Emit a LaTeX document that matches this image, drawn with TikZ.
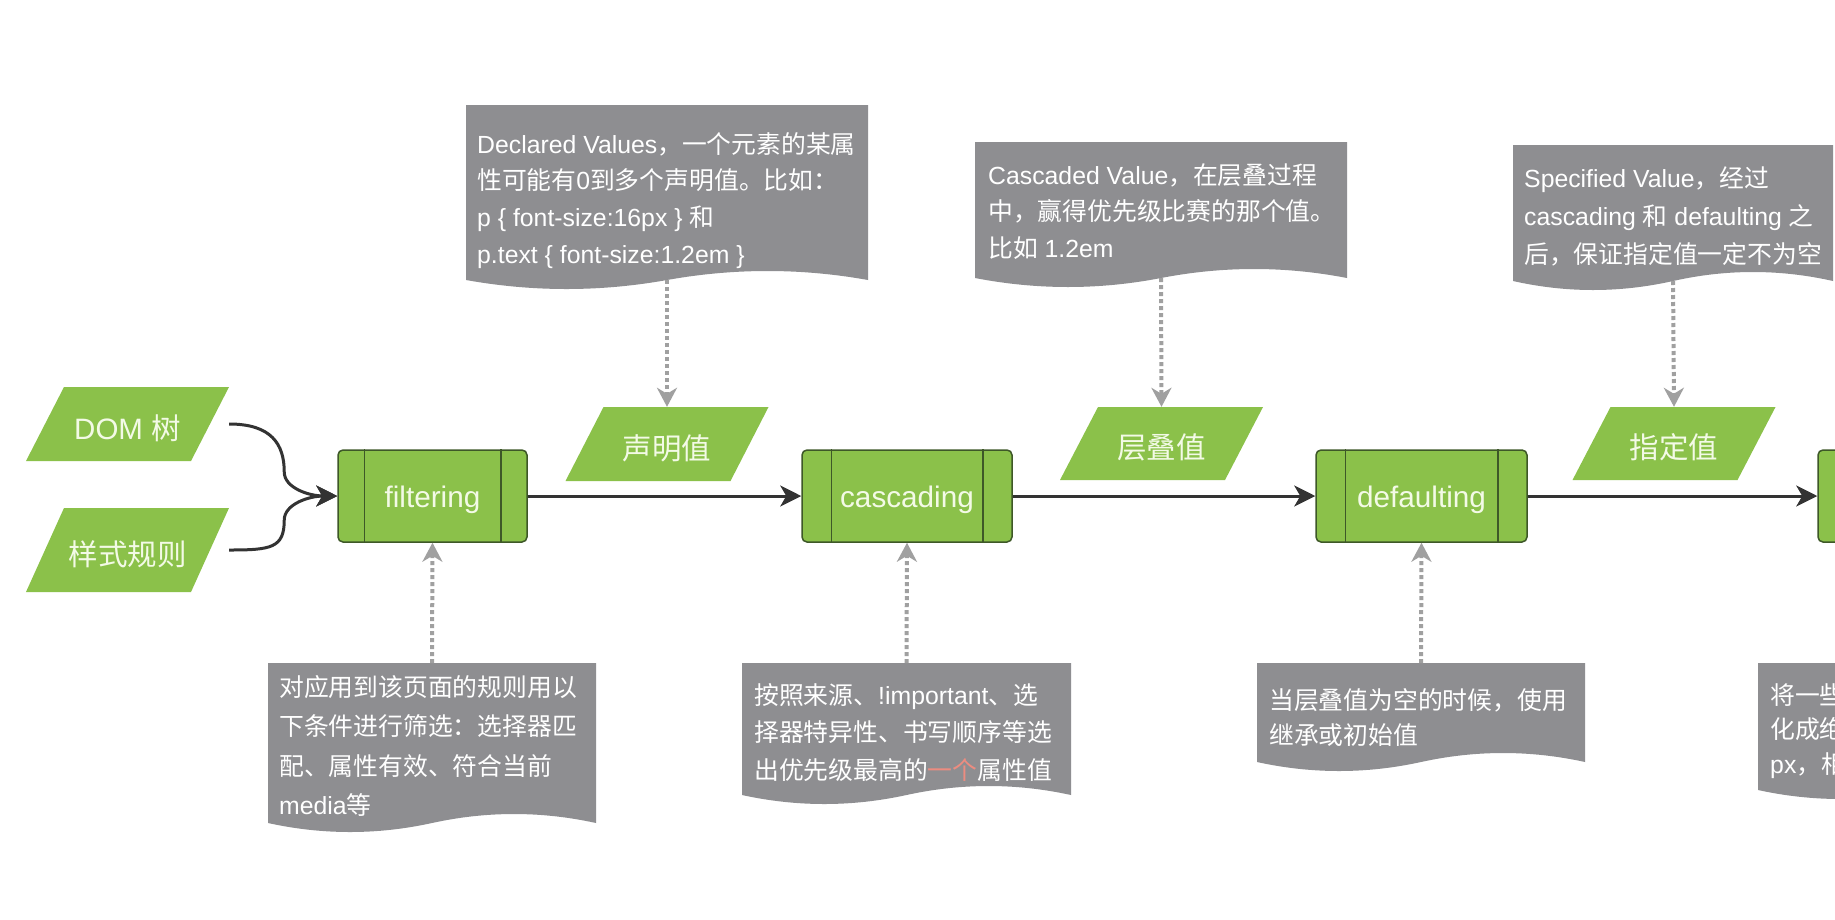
\documentclass[tikz,border=0pt]{standalone}
\usepackage{fontspec}
\setmainfont{Liberation Sans}
\newfontfamily\cjkfont{Noto Sans CJK SC}
\newfontfamily\latfont{Liberation Sans}
\usetikzlibrary{arrows.meta}
% automatic switch between Latin and CJK fonts
\XeTeXinterchartokenstate=1
\ifdefined\newXeTeXintercharclass \newXeTeXintercharclass\CJKcls \else \chardef\CJKcls=10 \fi
\makeatletter
\newcount\cjk@i
\def\cjk@setrange#1#2{\cjk@i=#1\relax\loop\XeTeXcharclass\cjk@i=\CJKcls\relax\advance\cjk@i by 1\relax\ifnum\cjk@i<#2\relax\repeat}
\cjk@setrange{"3000}{"3040}
\cjk@setrange{"4E00}{"A000}
\cjk@setrange{"FF00}{"FFF0}
\makeatother
\XeTeXinterchartoks 0 \CJKcls = {\cjkfont}
\XeTeXinterchartoks 4095 \CJKcls = {\cjkfont}
\XeTeXinterchartoks \CJKcls 0 = {\latfont}
\XeTeXinterchartoks \CJKcls 4095 = {\latfont}

\definecolor{grn}{RGB}{139,193,74}
\definecolor{pbord}{RGB}{62,88,40}
\definecolor{gtxt}{RGB}{243,250,230}
\definecolor{gbox}{RGB}{142,142,145}
\definecolor{darr}{RGB}{51,51,51}
\definecolor{garr}{RGB}{160,160,160}
\definecolor{hl}{RGB}{236,140,128}

% callout with wavy bottom: name, xl, ytop, xr, yend
\newcommand\docbox[5]{%
  \pgfmathsetmacro\dbw{#4-#2}%
  \pgfmathsetmacro\dbm{(#2+#4)/2}%
  \fill[gbox] (#2,#3) -- (#4,#3) -- (#4,#5)
    .. controls ({#4-\dbw/6},{#5-12}) and ({\dbm+\dbw/6},{#5-12}) .. (\dbm,#5)
    .. controls ({\dbm-\dbw/6},{#5+12}) and ({#2+\dbw/6},{#5+12}) .. (#2,#5) -- cycle;
  \coordinate (#1-top) at (\dbm,#3);
  \coordinate (#1-bot) at (\dbm,#5);
}
% parallelogram: name, cx, cy, height, text
\newcommand\paranode[5]{%
  \fill[grn] ({#2-101.5+38},{#3-#4/2}) -- ({#2+101.5},{#3-#4/2})
    -- ({#2+101.5-38},{#3+#4/2}) -- ({#2-101.5},{#3+#4/2}) -- cycle;
  \node[ptext, minimum width=203pt, minimum height=#4pt] (#1) at (#2,#3) {#5};
}

\begin{document}
\begin{tikzpicture}[x=1pt,y=-1pt,
  proc/.style={draw=pbord, fill=grn, rounded corners=5pt, line width=1.5pt,
    minimum height=92pt, inner sep=0pt, text=gtxt, text height=22.6pt, text depth=0pt,
    font=\fontsize{29.7}{32}\selectfont},
  ptext/.style={inner sep=0pt, text=gtxt, text height=30.7pt, text depth=0pt,
    font=\fontsize{29.5}{32}\selectfont},
  sepline/.style={draw=pbord, line width=1.5pt},
  flow/.style={draw=darr, line width=3pt, -{Stealth[length=21pt,width=21pt,inset=6pt]}},
  dotarr/.style={draw=garr, line width=4pt, dash pattern=on 4pt off 3pt,
    -{Stealth[length=19pt,width=20pt,inset=6pt]}},
  note/.style={anchor=north west, inner sep=0pt, align=left, text=white}]
\useasboundingbox (0,0) rectangle (1835,919);
\fill[white] (0,0) rectangle (1835,919);
\clip (0,0) rectangle (1835,919);

% ---- callouts ----
\docbox{cdecl}{466}{105}{868}{280}
\docbox{ccasc}{975}{142}{1347}{278}
\docbox{cspec}{1513}{145}{1833}{281}
\docbox{cb1}{268}{663}{596}{823}
\docbox{cb2}{742}{663}{1071}{795}
\docbox{cb3}{1257}{663}{1585}{762}
\docbox{cb4}{1758}{663}{2088}{790}

\node[note, font=\fontsize{24.8}{36.7}\selectfont] (tdecl) at (477,128)
  {\rule{0pt}{24.8pt}Declared Values，一个元素的某属\\性可能有0到多个声明值。比如：\\p \{ font-size:16px \} 和\\p.text \{ font-size:1.2em \}};
\node[note, font=\fontsize{24.8}{36.5}\selectfont] (tcasc) at (988,159.2)
  {\rule{0pt}{24.8pt}Cascaded Value，在层叠过程\\中，赢得优先级比赛的那个值。\\比如 1.2em};
\node[note, font=\fontsize{24.8}{38}\selectfont] (tspec) at (1524,162.2)
  {\rule{0pt}{24.8pt}Specified Value，经过\\cascading 和 defaulting 之\\后，保证指定值一定不为空};
\node[note, font=\fontsize{24.8}{39.4}\selectfont] (tb1) at (279,671.2)
  {\rule{0pt}{24.8pt}对应用到该页面的规则用以\\下条件进行筛选：选择器匹\\配、属性有效、符合当前\\media等};
\node[note, font=\fontsize{24.8}{37.5}\selectfont] (tb2) at (754,679.2)
  {\rule{0pt}{24.8pt}按照来源、!important、选\\择器特异性、书写顺序等选\\出优先级最高的{\color{hl}一个}属性值};
\node[note, font=\fontsize{24.8}{35.5}\selectfont] (tb3) at (1269,684.2)
  {\rule{0pt}{24.8pt}当层叠值为空的时候，使用\\继承或初始值};
\node[note, font=\fontsize{24.8}{34.5}\selectfont] (tb4) at (1770,679.2)
  {\rule{0pt}{24.8pt}将一些\\化成绝\\px，相};

% ---- parallelograms ----
\paranode{dom}{127.5}{424}{74}{DOM 树}
\paranode{sty}{127.5}{550}{84}{样式规则}
\paranode{vdecl}{667}{444}{74}{声明值}
\paranode{vcasc}{1161.5}{443.5}{73}{层叠值}
\paranode{vspec}{1674}{443.5}{73}{指定值}

% ---- process boxes ----
\node[proc, minimum width=189pt] (fil) at (432.5,496) {filtering};
\node[proc, minimum width=210pt] (cas) at (907,496) {cascading};
\node[proc, minimum width=211pt] (def) at (1421.5,496) {defaulting};
\node[proc, minimum width=210pt] (last) at (1923,496) {};
\foreach \n/\d in {fil/27, cas/30, def/30, last/30}{
  \draw[sepline] ([xshift=\d pt]\n.north west) -- ([xshift=\d pt]\n.south west);
  \draw[sepline] ([xshift=-\d pt]\n.north east) -- ([xshift=-\d pt]\n.south east);
}

% ---- connectors ----
\draw[flow] (dom.east) .. controls +(42,0) and +(0,-28) .. ([shift={(-53,-24)}]fil.west)
  .. controls +(0,16) and +(-28,0) .. (fil.west);
\draw[flow] (sty.east) .. controls +(42,0) and +(0,28) .. ([shift={(-53,24)}]fil.west)
  .. controls +(0,-16) and +(-28,0) .. (fil.west);
\draw[flow] (fil.east) -- (cas.west);
\draw[flow] (cas.east) -- (def.west);
\draw[flow] (def.east) -- (last.west);

\draw[dotarr] (cdecl-bot) -- (vdecl.north);
\draw[dotarr] (ccasc-bot) -- (vcasc.north);
\draw[dotarr] (cspec-bot) -- (vspec.north);
\draw[dotarr] (cb1-top) -- (fil.south);
\draw[dotarr] (cb2-top) -- (cas.south);
\draw[dotarr] (cb3-top) -- (def.south);
\end{tikzpicture}
\end{document}
